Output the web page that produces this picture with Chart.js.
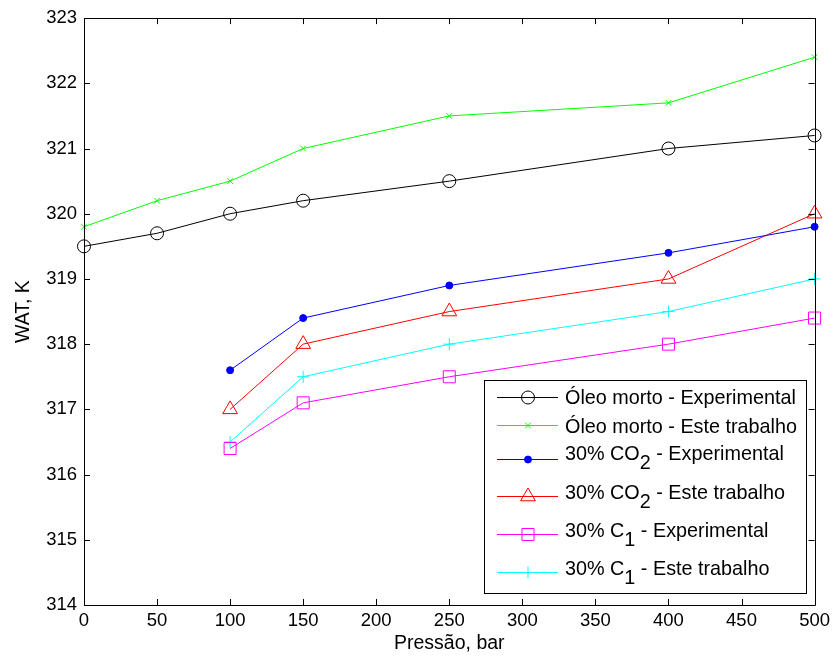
<!DOCTYPE html>
<html>
<head>
<meta charset="utf-8">
<script src="https://cdn.jsdelivr.net/npm/chart.js@4.4.1/dist/chart.umd.min.js"></script>
<style>
  html, body { margin: 0; padding: 0; background: #fff; }
  #wrap { width: 835px; height: 657px; position: relative; }
</style>
</head>
<body>
<div id="wrap"><canvas id="chart"></canvas></div>
<script>
// pressure (bar) for each series
const pressureDead = [0, 50, 100, 150, 250, 400, 500];
const pressureMix = [100, 150, 250, 400, 500];

// WAT values, K
const deadExp = [319.5, 319.7, 320.0, 320.2, 320.5, 321.0, 321.2];
const deadModel = [319.8, 320.2, 320.5, 321.0, 321.5, 321.7, 322.4];
const co2Exp = [317.6, 318.4, 318.9, 319.4, 319.8];
const co2Model = [317.0, 318.0, 318.5, 319.0, 320.0];
const c1Exp = [316.4, 317.1, 317.5, 318.0, 318.4];
const c1Model = [316.5, 317.5, 318.0, 318.5, 319.0];

// legend labels: [text before subscript, subscript, text after]
const seriesLabels = [
  ["Óleo morto - Experimental", "", ""],
  ["Óleo morto - Este trabalho", "", ""],
  ["30% CO", "2", " - Experimental"],
  ["30% CO", "2", " - Este trabalho"],
  ["30% C", "1", " - Experimental"],
  ["30% C", "1", " - Este trabalho"]
];

const xTicks = [0, 50, 100, 150, 200, 250, 300, 350, 400, 450, 500];
const yTicks = [314, 315, 316, 317, 318, 319, 320, 321, 322, 323];

const FONT = "'Liberation Sans', Arial, sans-serif";

function pts(xs, ys) {
  return xs.map((x, i) => ({ x: x, y: ys[i] }));
}

function ds(xs, ys, color, style, radius, filled) {
  return {
    data: pts(xs, ys),
    showLine: true,
    borderColor: color,
    borderWidth: 1,
    backgroundColor: filled ? color : "rgba(0,0,0,0)",
    pointStyle: style,
    pointRadius: radius,
    pointHoverRadius: radius,
    pointBorderWidth: 1,
    pointBorderColor: color,
    pointBackgroundColor: filled ? color : "rgba(0,0,0,0)",
    tension: 0,
    clip: false
  };
}

const datasets = [
  ds(pressureDead, deadExp, "#000000", "circle", 6.5, false),
  ds(pressureDead, deadModel, "#00ff00", "crossRot", 4, false),
  ds(pressureMix, co2Exp, "#0000ff", "circle", 3.5, true),
  ds(pressureMix, co2Model, "#ff0000", "triangle", 8.5, false),
  ds(pressureMix, c1Exp, "#ff00ff", "rect", 8.5, false),
  ds(pressureMix, c1Model, "#00ffff", "cross", 6, false)
];

// box around plot + inward tick marks (matlab style)
const boxTicks = {
  id: "boxTicks",
  afterDatasetsDraw(chart) {
    const ctx = chart.ctx;
    const a = chart.chartArea;
    const xs = chart.scales.x, ys = chart.scales.y;
    ctx.save();
    ctx.strokeStyle = "#000";
    ctx.lineWidth = 1;
    ctx.beginPath();
    ctx.rect(Math.round(a.left) + 0.5, Math.round(a.top) + 0.5,
      Math.round(a.right - a.left), Math.round(a.bottom - a.top));
    ctx.stroke();
    const len = 6;
    ctx.beginPath();
    xTicks.forEach(v => {
      const px = Math.round(xs.getPixelForValue(v)) + 0.5;
      ctx.moveTo(px, a.bottom); ctx.lineTo(px, a.bottom - len);
      ctx.moveTo(px, a.top); ctx.lineTo(px, a.top + len);
    });
    yTicks.forEach(v => {
      const py = Math.round(ys.getPixelForValue(v)) + 0.5;
      ctx.moveTo(a.left, py); ctx.lineTo(a.left + len, py);
      ctx.moveTo(a.right, py); ctx.lineTo(a.right - len, py);
    });
    ctx.stroke();
    ctx.restore();
  }
};

// legend box inside plot area, with subscripts
const boxLegend = {
  id: "boxLegend",
  afterDraw(chart) {
    const ctx = chart.ctx;
    const bx = 484, by = 380, bw = 322, bh = 213;
    const lineY = [397, 425, 459, 496, 534, 572];
    const textY = [397, 426, 453, 492, 530, 568];
    ctx.save();
    ctx.fillStyle = "#fff";
    ctx.fillRect(bx, by, bw, bh);
    ctx.strokeStyle = "#000";
    ctx.lineWidth = 1;
    ctx.strokeRect(bx + 0.5, by + 0.5, bw, bh);
    const fs = 19.8;
    ctx.font = fs + "px " + FONT;
    ctx.textBaseline = "alphabetic";
    ctx.textAlign = "left";
    datasets.forEach((d, i) => {
      const y = lineY[i] + 0.5;
      ctx.strokeStyle = d.borderColor;
      ctx.lineWidth = 1;
      ctx.beginPath();
      ctx.moveTo(497, y); ctx.lineTo(558, y);
      ctx.stroke();
      ctx.fillStyle = d.pointBackgroundColor;
      ctx.strokeStyle = d.pointBorderColor;
      Chart.helpers.drawPoint(ctx, {
        pointStyle: d.pointStyle, radius: d.pointRadius, rotation: 0, borderWidth: 1
      }, 528, y);
      const lab = seriesLabels[i];
      const base = textY[i] + 0.358 * fs;
      ctx.fillStyle = "#000";
      let x = 565;
      ctx.fillText(lab[0], x, base);
      x += ctx.measureText(lab[0]).width;
      if (lab[1]) {
        ctx.fillText(lab[1], x, base + 9);
        x += ctx.measureText(lab[1]).width;
        ctx.fillText(lab[2], x, base);
      }
    });
    ctx.restore();
  }
};

new Chart(document.getElementById("chart"), {
  type: "scatter",
  data: { datasets: datasets },
  options: {
    responsive: true,
    maintainAspectRatio: false,
    animation: false,
    events: [],
    layout: { padding: { left: 0, top: 18, right: 17, bottom: 0 } },
    plugins: {
      legend: { display: false },
      tooltip: { enabled: false }
    },
    scales: {
      x: {
        type: "linear",
        min: 0, max: 500,
        afterFit: s => { s.height = 52; },
        afterBuildTicks: s => { s.ticks = xTicks.map(v => ({ value: v })); },
        grid: { display: false, drawTicks: false },
        border: { display: false },
        ticks: { color: "#000", font: { family: FONT, size: 18.5 }, padding: 5, maxRotation: 0 },
        title: {
          display: true, text: "Pressão, bar", color: "#000",
          font: { family: FONT, size: 19.5 }, padding: { top: 0, bottom: 2 }
        }
      },
      y: {
        type: "linear",
        min: 314, max: 323,
        afterFit: s => { s.width = 84; },
        afterBuildTicks: s => { s.ticks = yTicks.map(v => ({ value: v })); },
        grid: { display: false, drawTicks: false },
        border: { display: false },
        ticks: { color: "#000", font: { family: FONT, size: 18.5 }, padding: 7 },
        title: {
          display: true, text: "WAT, K", color: "#000",
          font: { family: FONT, size: 19.5 }, padding: { top: 12, bottom: 0 }
        }
      }
    }
  },
  plugins: [boxTicks, boxLegend]
});
</script>
</body>
</html>
